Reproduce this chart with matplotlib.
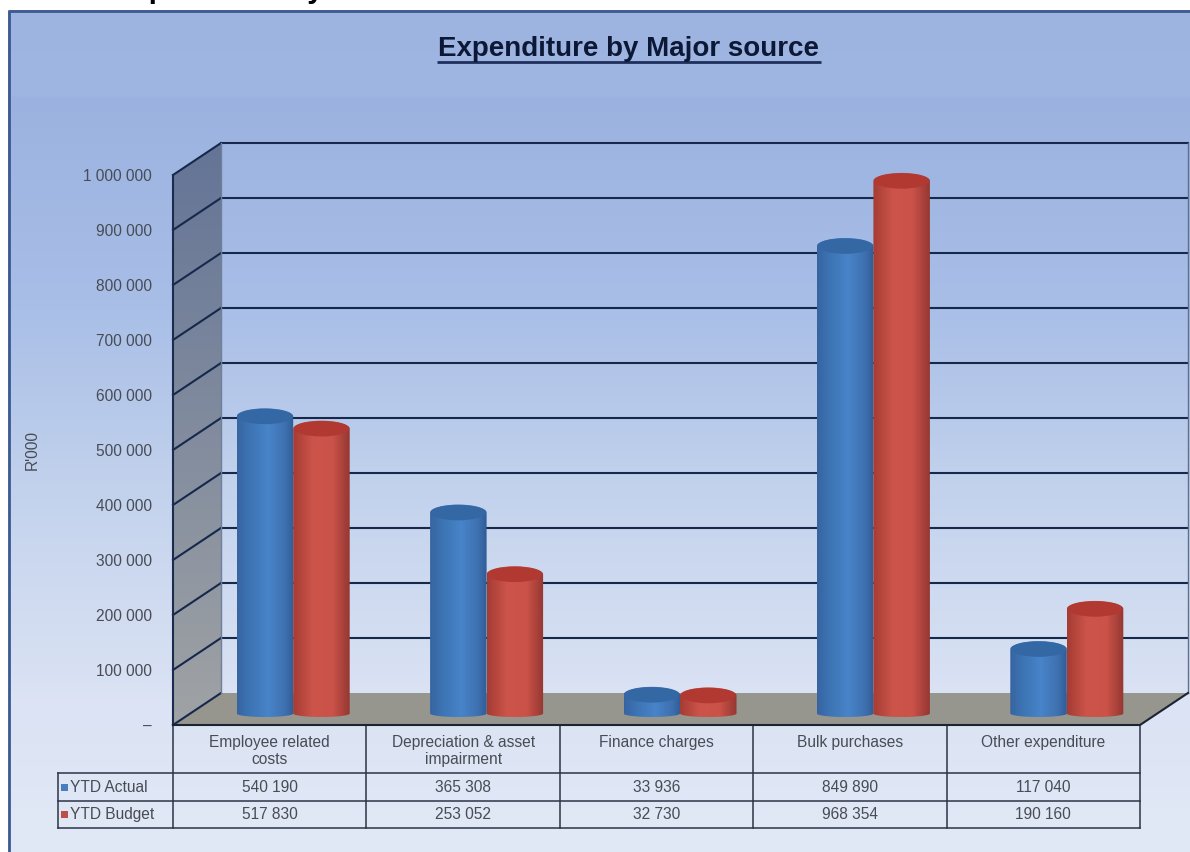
# Expenditure by major source - 3D look cylinder chart with data table
import numpy as np
import matplotlib
matplotlib.use("Agg")
import matplotlib.pyplot as plt
from matplotlib.colors import LinearSegmentedColormap
from matplotlib.patches import PathPatch, Polygon, Rectangle, Ellipse
from matplotlib.path import Path

categories = ["Employee related\ncosts", "Depreciation & asset\nimpairment",
              "Finance charges", "Bulk purchases", "Other expenditure"]
series_names = ["YTD Actual", "YTD Budget"]
ytd_actual = [540190, 365308, 33936, 849890, 117040]
ytd_budget = [517830, 253052, 32730, 968354, 190160]
y_ticks = [0, 100000, 200000, 300000, 400000, 500000, 600000, 700000, 800000, 900000, 1000000]

plt.rcParams['font.family'] = ['Liberation Sans', 'DejaVu Sans']
W, H = 1190, 852
TXT = "#474c55"
FS = 11.2

def rgb(*c):
    return [v / 255 for v in c]

fig = plt.figure(figsize=(W / 100, H / 100), dpi=100, facecolor="white")

# background layer in pixel coordinates
bg = fig.add_axes([0, 0, 1, 1])
bg.set_xlim(0, W)
bg.set_ylim(H, 0)
bg.axis("off")

stops = [(10, (157, 180, 224)), (95, (159, 182, 227)), (97, (155, 178, 224)), (300, (168, 190, 231)),
         (500, (196, 211, 237)), (700, (219, 227, 244)), (852, (226, 233, 246))]
ys = np.arange(10, H)
panel = np.stack([np.interp(ys, [s[0] for s in stops], [s[1][k] for s in stops]) for k in range(3)], axis=1)
bg.imshow(panel[:, None, :] / 255, extent=(8, W, H, 10), aspect="auto", zorder=0)
bg.set_xlim(0, W)
bg.set_ylim(H, 0)
bg.plot([8.5, 8.5, W], [H, 10.5, 10.5], color=rgb(60, 90, 145), lw=2, zorder=1)

# cropped heading from the page above the chart
bg.text(113, -2, "Expenditure by", fontsize=21, fontweight="bold", color="black", va="baseline", ha="left", clip_on=True)

bg.text(628, 49, "Expenditure by Major source", fontsize=20, fontweight="bold", color="#0c1835",
        ha="center", va="center")
bg.plot([437, 821], [61.5, 61.5], color="#1d2f5a", lw=2, solid_capstyle="butt")

# chart axes: front plane of the 3D box
X0, X1, Y0, Y1 = 173, 1140, 725, 175
ax = fig.add_axes([X0 / W, 1 - Y0 / H, (X1 - X0) / W, (Y0 - Y1) / H], zorder=2)
ax.patch.set_visible(False)
for s in ax.spines.values():
    s.set_visible(False)

n = len(categories)
px_x = n / (X1 - X0)
px_y = 1000000 / (Y0 - Y1)
DX = 48 * px_x
DY = 32 * px_y
top = y_ticks[-1]

# side wall gradient, floor
wall = LinearSegmentedColormap.from_list("wall", [rgb(100, 116, 150), rgb(130, 140, 158), rgb(160, 163, 165)])
im = ax.imshow(np.linspace(0, 1, 256)[:, None], extent=(0, DX, 0, top + DY), aspect="auto", cmap=wall,
               origin="upper", zorder=1)
wall_poly = Polygon([(0, 0), (DX, DY), (DX, top + DY), (0, top)], closed=True, fc="none", ec="none",
                    transform=ax.transData, clip_on=False)
ax.add_patch(wall_poly)
im.set_clip_box(fig.bbox)
im.set_clip_path(wall_poly)
ax.add_patch(Polygon([(0, 0), (n, 0), (n + DX, DY), (DX, DY)], closed=True, fc=rgb(150, 150, 142), ec="none",
                     clip_on=False, zorder=1.5))

# grid lines on wall and back
for v in y_ticks:
    ax.plot([0, DX], [v, v + DY], color="#16294d", lw=1.5, clip_on=False, zorder=2)
    if v > 0:
        ax.plot([DX, n + DX], [v + DY, v + DY], color="#16294d", lw=1.5, clip_on=False, zorder=2)
ax.plot([0, 0], [0, top], color="#1b2c4e", lw=1.5, clip_on=False, zorder=2)
ax.plot([DX, DX], [0 + DY, top + DY], color="#6f7f9c", lw=1, clip_on=False, zorder=2)
ax.plot([n + DX, n + DX], [DY, top + DY], color="#5f6f8c", lw=1, clip_on=False, zorder=2)
ax.plot([0, n, n + DX], [0, 0, DY], color="#1b2433", lw=1.5, clip_on=False, zorder=2)

blue_cm = LinearSegmentedColormap.from_list("b", [(0, rgb(55, 100, 160)), (0.2, rgb(60, 115, 178)), (0.55, rgb(72, 132, 202)),
                                                  (0.85, rgb(62, 112, 175)), (1, rgb(48, 92, 150))])
red_cm = LinearSegmentedColormap.from_list("r", [(0, rgb(165, 60, 52)), (0.35, rgb(205, 84, 74)), (0.7, rgb(202, 82, 72)),
                                                 (1, rgb(148, 55, 50))])
BAR_W = 56.5 * px_x
BAR_OFF = 23.5 * px_x
BAR_Y = 11.5 * px_y
ELL_T = 8 * px_y
ELL_B = 3.5 * px_y

def cylinder(xc, val, cm, cap, z):
    x_l, x_r = xc - BAR_W / 2, xc + BAR_W / 2
    y_t, y_b = val + BAR_Y, BAR_Y
    t = np.linspace(0, np.pi, 40)
    upper = np.column_stack([xc - BAR_W / 2 * np.cos(t), y_t + ELL_T * np.sin(t)])
    lower = np.column_stack([xc + BAR_W / 2 * np.cos(t), y_b - ELL_B * np.sin(t)])
    verts = np.vstack([upper, lower, upper[:1]])
    body = PathPatch(Path(verts), fc="none", ec="none", transform=ax.transData, clip_on=False, zorder=z)
    ax.add_patch(body)
    img = ax.imshow(np.linspace(0, 1, 128)[None, :], extent=(x_l, x_r, y_b - ELL_B, y_t + ELL_T),
                    aspect="auto", cmap=cm, zorder=z)
    img.set_clip_box(fig.bbox)
    img.set_clip_path(body)
    ax.add_patch(Ellipse((xc, y_t), BAR_W * 0.97, 2 * ELL_T * 0.97, fc=cap, ec="none", clip_on=False, zorder=z + 0.1))

for i in range(n):
    c = i + 0.5 + BAR_OFF
    cylinder(c - BAR_W / 2, ytd_actual[i], blue_cm, rgb(52, 104, 165), 3)
    cylinder(c + BAR_W / 2, ytd_budget[i], red_cm, rgb(178, 56, 50), 4)

ax.set_xlim(0, n)
ax.set_ylim(0, top)
ax.set_yticks(y_ticks)
ax.set_yticklabels(["–" if v == 0 else f"{v:,}".replace(",", " ") for v in y_ticks], fontsize=FS, color=TXT)
ax.set_xticks(np.arange(n) + 0.5)
ax.set_xticklabels(categories, fontsize=FS, color=TXT, linespacing=1.15)
ax.tick_params(axis="y", length=0, pad=15)
ax.tick_params(axis="x", length=0, pad=7)
ax.set_ylabel("R'000", fontsize=FS, color=TXT)
ax.yaxis.set_label_coords((40 - X0) / (X1 - X0), (Y0 - 450) / (Y0 - Y1))

# data table under the chart
row_y = [773, 801, 828]
col_x = X0 + np.arange(n + 1) * (X1 - X0) / n
LINE = "#2b3445"
for yy in row_y:
    bg.plot([58, X1], [yy, yy], color=LINE, lw=1.1)
for xx in col_x:
    bg.plot([xx, xx], [Y0, row_y[-1]], color=LINE, lw=1.1)
bg.plot([58, 58], [row_y[0], row_y[-1]], color=LINE, lw=1.1)
swatches = [rgb(72, 125, 190), rgb(190, 80, 76)]
for r, (name, vals) in enumerate(zip(series_names, [ytd_actual, ytd_budget])):
    yc = (row_y[r] + row_y[r + 1]) / 2
    bg.add_patch(Rectangle((61, yc - 3.5), 7, 7, fc=swatches[r], ec="none"))
    bg.text(70, yc, name, fontsize=FS, color=TXT, va="center", ha="left")
    for i, v in enumerate(vals):
        bg.text((col_x[i] + col_x[i + 1]) / 2, yc, f"{v:,}".replace(",", " "), fontsize=FS, color=TXT,
                va="center", ha="center")

fig.savefig("out.png", dpi=100)
